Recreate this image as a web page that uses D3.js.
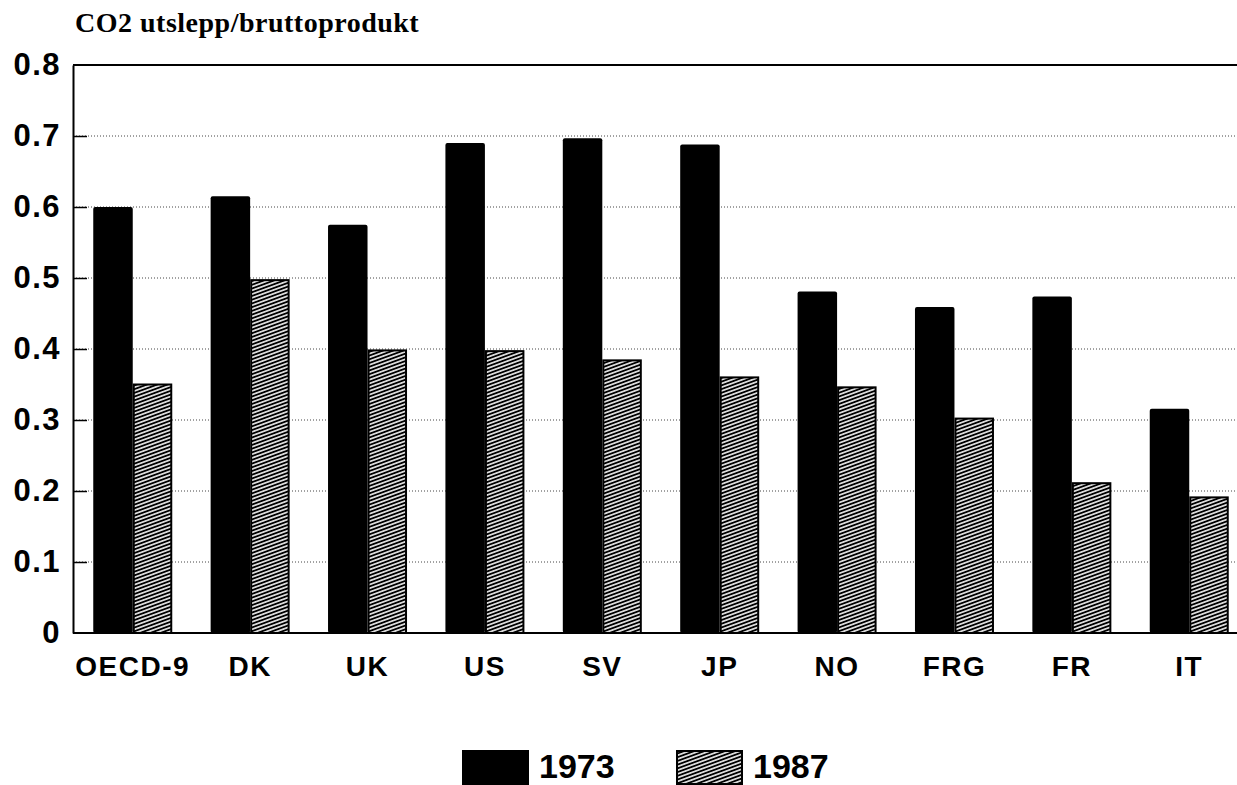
<!DOCTYPE html>
<html>
<head>
<meta charset="utf-8">
<script src="https://cdn.jsdelivr.net/npm/d3@7"></script>
<style>
  body { margin: 0; background: #fff; }
  svg { display: block; }
  .axis text { font-family: "Liberation Sans", Arial, sans-serif; font-weight: bold; }
</style>
</head>
<body>
<div id="chart"></div>
<script>
// Data
var countries = ["OECD-9", "DK", "UK", "US", "SV", "JP", "NO", "FRG", "FR", "IT"];
var years = ["1973", "1987"];
var v1973 = [0.60, 0.615, 0.575, 0.69, 0.697, 0.688, 0.481, 0.459, 0.474, 0.316];
var v1987 = [0.35, 0.497, 0.398, 0.397, 0.384, 0.36, 0.346, 0.302, 0.211, 0.191];
var yTicks = [0, 0.1, 0.2, 0.3, 0.4, 0.5, 0.6, 0.7, 0.8];
var title = "CO2 utslepp/bruttoprodukt";

var width = 1237, height = 785;
var axisX = 73;

var svg = d3.select("#chart").append("svg")
    .attr("width", width)
    .attr("height", height);

// hatch pattern for 1987
var defs = svg.append("defs");
var pat = defs.append("pattern")
    .attr("id", "hatch")
    .attr("patternUnits", "userSpaceOnUse")
    .attr("width", 10)
    .attr("height", 3.5)
    .attr("patternTransform", "rotate(-20)");
pat.append("rect").attr("width", 10).attr("height", 3.5).attr("fill", "#fff");
pat.append("line")
    .attr("x1", 0).attr("y1", 1.75).attr("x2", 10).attr("y2", 1.75)
    .attr("stroke", "#000").attr("stroke-width", 2);

var yScale = d3.scaleLinear().domain([0, 0.8]).range([633, 65]);

var x0 = d3.scaleBand().domain(countries).range([74, 1248])
    .paddingInner(0.327).paddingOuter(0.164);
var x1 = d3.scaleBand().domain(years).range([0, x0.bandwidth()]);

// dotted grid lines
svg.append("g")
    .selectAll("line")
    .data(yTicks.filter(function(d) { return d > 0 && d < 0.8; }))
    .enter()
    .append("line")
    .attr("x1", axisX)
    .attr("x2", width)
    .attr("y1", function(d) { return yScale(d); })
    .attr("y2", function(d) { return yScale(d); })
    .attr("stroke", "#444")
    .attr("stroke-width", 1)
    .attr("stroke-dasharray", "1,2");

// top frame line
svg.append("line")
    .attr("x1", axisX).attr("x2", width)
    .attr("y1", yScale(0.8)).attr("y2", yScale(0.8))
    .attr("stroke", "#000").attr("stroke-width", 2);

// bars
var groups = svg.append("g")
    .selectAll("g")
    .data(countries)
    .enter()
    .append("g")
    .attr("transform", function(d) { return "translate(" + x0(d) + ",0)"; });

groups.append("rect")
    .attr("x", x1("1973"))
    .attr("width", x1.bandwidth())
    .attr("y", function(d, i) { return yScale(v1973[i]); })
    .attr("height", function(d, i) { return yScale(0) - yScale(v1973[i]); })
    .attr("rx", 2)
    .attr("fill", "#000");

groups.append("rect")
    .attr("x", x1("1987") + 1)
    .attr("width", x1.bandwidth() - 2)
    .attr("y", function(d, i) { return yScale(v1987[i]); })
    .attr("height", function(d, i) { return yScale(0) - yScale(v1987[i]); })
    .attr("fill", "url(#hatch)")
    .attr("stroke", "#000")
    .attr("stroke-width", 2);

// y axis
var yAxis = d3.axisLeft(yScale)
    .tickValues(yTicks)
    .tickFormat(function(d) { return d === 0 ? "0" : d3.format(".1f")(d); })
    .tickSizeInner(-14)
    .tickSizeOuter(0)
    .tickPadding(12);

var gy = svg.append("g")
    .attr("class", "axis")
    .attr("transform", "translate(" + axisX + ",0)")
    .call(yAxis);
gy.select(".domain").attr("stroke-width", 2);
gy.selectAll(".tick line").attr("stroke-width", 1.5);
gy.selectAll(".tick text")
    .style("font-size", "31px")
    .style("letter-spacing", "1.5px")
    .attr("fill", "#000");
gy.selectAll(".tick").filter(function(d) { return d === 0.8 || d === 0; }).select("line").remove();

// x axis baseline
svg.append("line")
    .attr("x1", axisX).attr("x2", width)
    .attr("y1", yScale(0)).attr("y2", yScale(0))
    .attr("stroke", "#000").attr("stroke-width", 2);

// x labels
svg.append("g")
    .attr("class", "axis")
    .selectAll("text")
    .data(countries)
    .enter()
    .append("text")
    .attr("x", function(d) { return x0(d) + x0.bandwidth() / 2; })
    .attr("y", 676)
    .attr("text-anchor", "middle")
    .style("font-size", "28px")
    .style("letter-spacing", "1.5px")
    .text(function(d) { return d; });

// title
svg.append("text")
    .attr("x", 75)
    .attr("y", 32)
    .style("font-family", "'Liberation Serif', 'Times New Roman', serif")
    .style("font-weight", "bold")
    .style("font-size", "28px")
    .style("letter-spacing", "0.5px")
    .text(title);

// legend
var legend = svg.append("g").attr("class", "axis");
var legendX = [463, 677];
var legendFill = ["#000", "url(#hatch)"];
years.forEach(function(y, i) {
    legend.append("rect")
        .attr("x", legendX[i])
        .attr("y", 751)
        .attr("width", 65)
        .attr("height", 33)
        .attr("fill", legendFill[i])
        .attr("stroke", "#000")
        .attr("stroke-width", 2);
    legend.append("text")
        .attr("x", legendX[i] + 76)
        .attr("y", 778)
        .style("font-size", "34px")
        .text(y);
});
</script>
</body>
</html>
